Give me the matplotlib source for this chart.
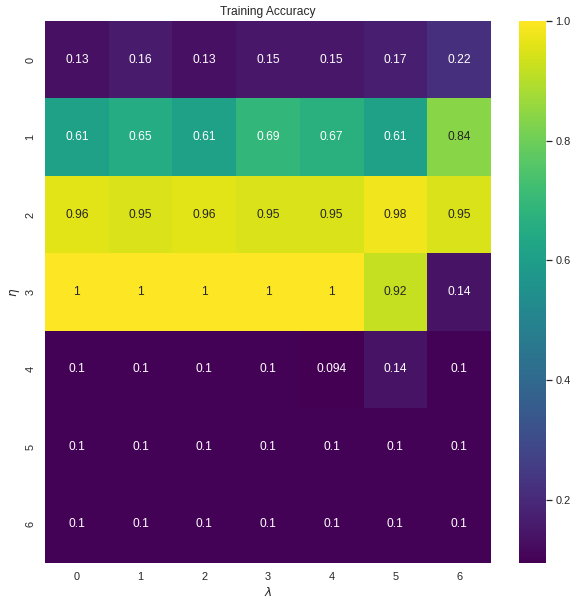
#
# Training accuracy heatmap, eta vs lambda
#
import numpy as np
import matplotlib
matplotlib.use('Agg')
import matplotlib.pyplot as plt
import seaborn as sns

sns.set()
plt.rcParams['font.family'] = ['Liberation Sans', 'DejaVu Sans']

eta_labels = ['0', '1', '2', '3', '4', '5', '6']
lmbda_labels = ['0', '1', '2', '3', '4', '5', '6']

row0 = [0.13, 0.16, 0.13, 0.15, 0.15, 0.17, 0.22]
row1 = [0.61, 0.65, 0.61, 0.69, 0.67, 0.61, 0.84]
row2 = [0.96, 0.95, 0.96, 0.95, 0.95, 0.98, 0.95]
row3 = [1.0, 1.0, 1.0, 1.0, 1.0, 0.92, 0.14]
row4 = [0.1, 0.1, 0.1, 0.1, 0.094, 0.14, 0.1]
row5 = [0.1, 0.1, 0.1, 0.1, 0.1, 0.1, 0.1]
row6 = [0.1, 0.1, 0.1, 0.1, 0.1, 0.1, 0.1]

train_acc = np.array([row0, row1, row2, row3, row4, row5, row6])

fig = plt.figure(figsize=(578/72, 608/72), dpi=72)
ax = fig.add_axes([45/578, 45/608, 446/578, 542/608])
cax = fig.add_axes([519/578, 45/608, 27/578, 542/608])

sns.heatmap(train_acc, annot=True, ax=ax, cbar_ax=cax, cmap='viridis',
            xticklabels=lmbda_labels, yticklabels=eta_labels)
ax.set_title('Training Accuracy')
ax.set_ylabel(r'$\eta$')
ax.set_xlabel(r'$\lambda$')
ax.set_yticklabels(eta_labels, rotation=90, va='center')

fig.savefig('out.png', dpi=72)
